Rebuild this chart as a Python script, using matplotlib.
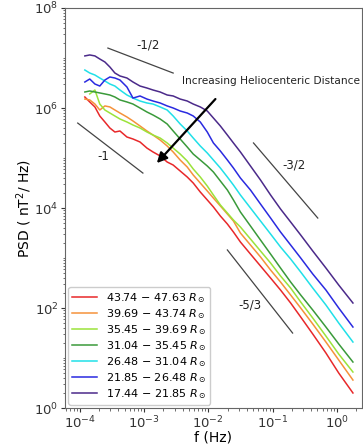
import numpy as np
import matplotlib
matplotlib.use("Agg")
import matplotlib.pyplot as plt
from matplotlib.ticker import LogLocator, NullFormatter

# shared frequency bins (Hz)
freq = [1.20e-4, 1.43e-4, 1.72e-4, 2.05e-4, 2.46e-4, 2.94e-4, 3.52e-4, 4.22e-4,
        5.42e-4, 6.73e-4, 8.66e-4, 1.11e-3, 1.38e-3, 1.78e-3, 2.29e-3, 2.84e-3,
        3.65e-3, 4.70e-3, 5.83e-3, 7.50e-3, 9.64e-3, 1.20e-2, 1.54e-2, 1.98e-2,
        2.46e-2, 3.16e-2, 4.53e-2, 6.49e-2, 9.31e-2, 0.133, 0.191, 0.274,
        0.422, 0.676, 1.07, 1.78]

# PSD (nT^2/Hz), one series per distance bin
psd_43 = [1.66e6, 1.32e6, 1.05e6, 6.92e5, 5.25e5, 3.98e5, 3.31e5, 3.47e5,
          2.63e5, 2.40e5, 2.09e5, 1.58e5, 1.32e5, 1.10e5, 8.32e4, 7.24e4,
          5.50e4, 4.17e4, 3.16e4, 2.09e4, 1.45e4, 1.05e4, 6.92e3, 4.79e3,
          3.31e3, 2.09e3, 1.20e3, 692, 398, 229, 126, 66.1,
          30.2, 12.6, 5.01, 2.00]
psd_39 = [1.51e6, 1.45e6, 1.20e6, 9.12e5, 1.10e6, 1.05e6, 9.12e5, 7.94e5,
          6.61e5, 5.50e5, 4.37e5, 3.47e5, 2.88e5, 2.29e5, 1.74e5, 1.32e5,
          9.12e4, 6.61e4, 4.57e4, 3.16e4, 2.19e4, 1.58e4, 1.10e4, 7.59e3,
          5.50e3, 3.16e3, 1.82e3, 1.05e3, 575, 331, 182, 100,
          47.9, 20.9, 9.12, 3.63]
psd_35 = [np.nan, 1.91e6, 2.29e6, 1.20e6, 9.12e5, 7.94e5, 6.92e5, 6.03e5,
          5.25e5, 4.57e5, 3.98e5, 3.31e5, 2.88e5, 2.51e5, 2.00e5, 1.58e5,
          1.20e5, 8.71e4, 6.03e4, 4.17e4, 2.75e4, 1.82e4, 1.15e4, 7.94e3,
          5.75e3, 4.17e3, 2.40e3, 1.38e3, 794, 437, 251, 132,
          63.1, 27.5, 12.0, 5.25]
psd_31 = [2.09e6, 2.19e6, 2.09e6, 2.00e6, 1.91e6, 1.82e6, 1.66e6, 1.45e6,
          1.32e6, 1.20e6, 1.00e6, 8.32e5, 7.24e5, 6.03e5, 4.79e5, 3.47e5,
          2.40e5, 1.66e5, 1.20e5, 9.12e4, 6.92e4, 5.25e4, 3.47e4, 2.29e4,
          1.45e4, 8.32e3, 4.37e3, 2.29e3, 1.20e3, 631, 331, 182,
          91.2, 41.7, 19.1, 8.32]
psd_26 = [5.75e6, 5.01e6, 4.57e6, 3.98e6, 3.47e6, 3.02e6, 2.75e6, 2.29e6,
          1.82e6, 1.58e6, 1.38e6, 1.26e6, 1.20e6, 1.05e6, 9.12e5, 6.92e5,
          4.79e5, 3.47e5, 2.51e5, 1.74e5, 1.26e5, 9.12e4, 6.31e4, 4.17e4,
          2.88e4, 1.82e4, 1.00e4, 5.50e3, 3.02e3, 1.66e3, 955, 525,
          251, 115, 50.1, 20.9]
psd_21 = [3.31e6, 3.80e6, 3.02e6, 2.75e6, 3.63e6, 4.17e6, 3.98e6, 3.63e6,
          2.63e6, 1.58e6, 1.74e6, 1.51e6, 1.38e6, 1.26e6, 1.10e6, 1.00e6,
          8.71e5, 7.94e5, 6.92e5, 5.25e5, 3.31e5, 2.00e5, 1.38e5, 9.12e4,
          6.31e4, 3.98e4, 2.29e4, 1.20e4, 6.31e3, 3.31e3, 1.82e3, 1.00e3,
          479, 229, 100, 41.7]
psd_17 = [1.10e7, 1.15e7, 1.10e7, 9.55e6, 8.32e6, 6.61e6, 5.01e6, 4.37e6,
          3.98e6, 3.31e6, 2.75e6, 2.51e6, 2.29e6, 2.09e6, 1.82e6, 1.74e6,
          1.51e6, 1.38e6, 1.20e6, 1.05e6, 8.71e5, 6.31e5, 4.37e5, 2.88e5,
          2.00e5, 1.32e5, 6.92e4, 3.63e4, 1.82e4, 9.55e3, 5.25e3, 2.88e3,
          1.38e3, 631, 288, 126]

labels = [r"43.74 $-$ 47.63 $R_\odot$", r"39.69 $-$ 43.74 $R_\odot$",
          r"35.45 $-$ 39.69 $R_\odot$", r"31.04 $-$ 35.45 $R_\odot$",
          r"26.48 $-$ 31.04 $R_\odot$", r"21.85 $-$ 26.48 $R_\odot$",
          r"17.44 $-$ 21.85 $R_\odot$"]
colors = ["#e8282a", "#f5923a", "#9be33a", "#3a9a3a", "#20e0e8", "#2a2ae0", "#4b2a8a"]
series = [psd_43, psd_39, psd_35, psd_31, psd_26, psd_21, psd_17]

# reference slopes: (f0, f1), (p0, p1), label, label position
slopes = [
    ((2.74e-4, 2.84e-3), (1.58e7, 5.0e6), "-1/2", (1.15e-3, 1.8e7)),
    ((9.3e-5, 9.6e-4), (5.0e5, 5.0e4), "-1", (2.3e-4, 1.05e5)),
    ((5.05e-2, 0.505), (2.0e5, 6.3e3), "-3/2", (0.214, 7.2e4)),
    ((1.98e-2, 0.205), (1.45e3, 31.6), "-5/3", (4.5e-2, 115)),
]

fig = plt.figure(figsize=(3.63, 4.44), dpi=100)
ax = fig.add_axes([0.179, 0.081, 0.818, 0.901])

for psd, c, lab in zip(series, colors, labels):
    ax.plot(freq, psd, color=c, lw=1.1, label=lab)

for (fx, py, txt, pos) in slopes:
    ax.plot(fx, py, color="#444444", lw=0.9)
    ax.text(pos[0], pos[1], txt, fontsize=8.5, ha="center", va="center", color="#222222")

ax.annotate("", xy=(1.48e-3, 7.2e4), xytext=(1.38e-2, 1.66e6),
            arrowprops=dict(arrowstyle="-|>,head_width=0.3,head_length=0.6",
                            color="black", lw=1.6))
ax.text(3.9e-3, 3.47e6, "Increasing Heliocenteric Distance", fontsize=7.6,
        ha="left", va="center", color="#222222")

ax.set_xscale("log")
ax.set_yscale("log")
ax.set_xlim(10**-4.23, 10**0.39)
ax.set_ylim(1, 1e8)
ax.set_yticks([1, 1e2, 1e4, 1e6, 1e8])
ax.set_xticks([1e-4, 1e-3, 1e-2, 1e-1, 1])
ax.yaxis.set_minor_locator(LogLocator(base=10, subs=np.arange(1, 10), numticks=100))
ax.xaxis.set_minor_locator(LogLocator(base=10, subs=np.arange(2, 10), numticks=100))
ax.yaxis.set_minor_formatter(NullFormatter())
ax.xaxis.set_minor_formatter(NullFormatter())
ax.tick_params(which="major", labelsize=9.5, colors="#333333", length=3, pad=1.5)
ax.tick_params(which="minor", colors="#555555", length=1.8)
for s in ax.spines.values():
    s.set_color("#666666")

ax.set_xlabel("f (Hz)", fontsize=10)
ax.xaxis.set_label_coords(0.5, -0.055)
ax.set_ylabel(r"PSD ( nT$^2$/ Hz)", fontsize=10)
ax.yaxis.set_label_coords(-0.105, 0.5)

ax.legend(loc="lower left", fontsize=8, handlelength=2.2, labelspacing=0.2,
          borderaxespad=0.3, borderpad=0.35, framealpha=1)

fig.savefig("out.png", dpi=100)
